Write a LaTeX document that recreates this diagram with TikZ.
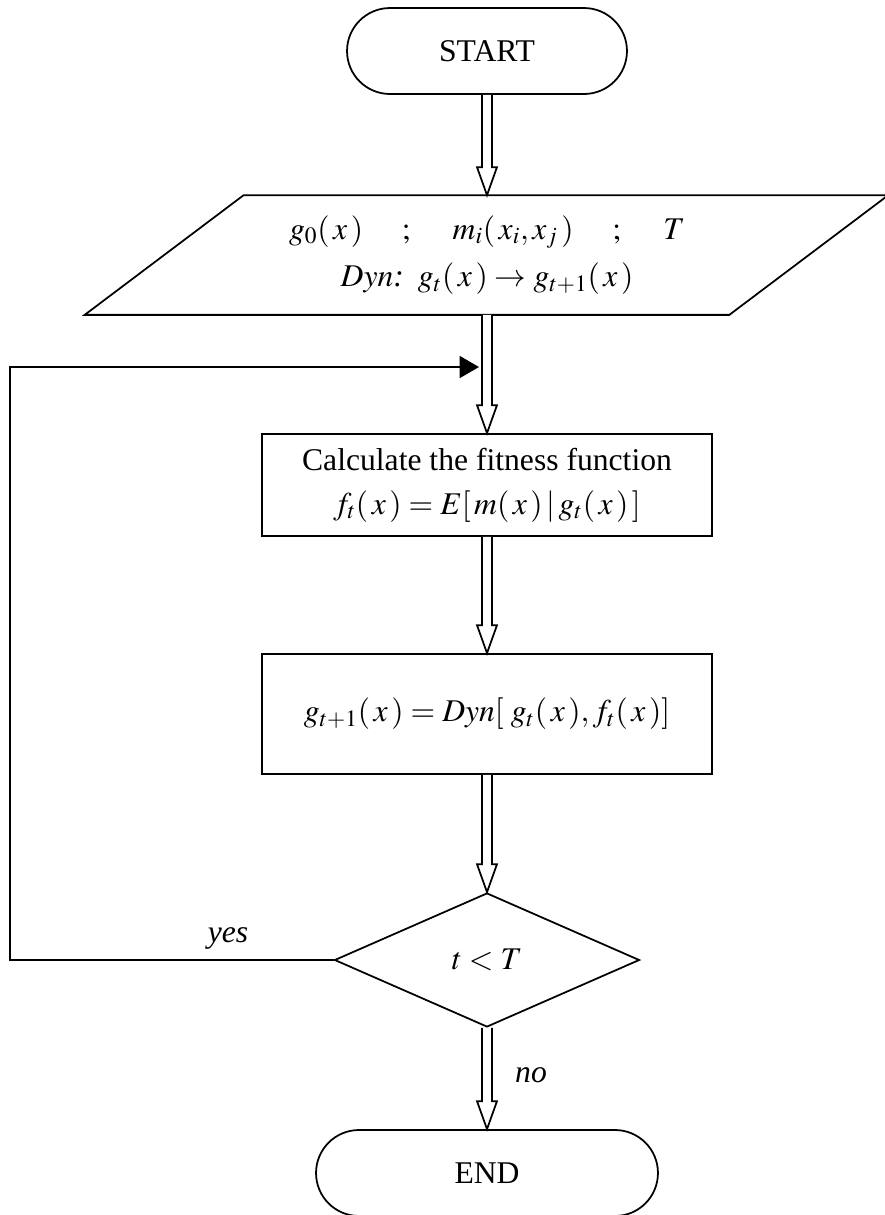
\documentclass[tikz,border=0pt]{standalone}
\usepackage{mathptmx}
\usepackage[no-math]{fontspec}
\setmainfont{Liberation Serif}
\usetikzlibrary{shapes.geometric,shapes.misc,arrows.meta,calc}

% hollow block arrow between two anchors
\newcommand{\fatarrow}[2]{%
  \draw[fill=white, line join=miter]
    ($(#1)+(-5,0)$) -- ($(#2)+(-5,-28)$) -- ($(#2)+(-10,-28)$) -- (#2)
    -- ($(#2)+(10,-28)$) -- ($(#2)+(5,-28)$) -- ($(#1)+(5,0)$);}

\begin{document}
\begin{tikzpicture}[x=0.02cm, y=-0.02cm, line width=1pt,
    every node/.style={font=\fontsize{18}{21}\selectfont},
    term/.style={draw, rounded rectangle, minimum height=1.72cm, inner sep=0pt},
    proc/.style={draw, rectangle, minimum width=9cm, inner sep=0pt, align=center}]
            \useasboundingbox (0,0) rectangle (885,1215);

            %boxes
            \node (S) at (487,51) [term, minimum width=5.6cm] {START};
            \node (IN) at (487,255) [minimum width=12.86cm, minimum height=2.36cm, inner sep=0pt, align=center] {\raisebox{-4pt}{$g_0(\,x\,)\quad\;;\quad\; m_i(\,x_i,x_j\,)\quad\;;\quad\; T$}\\[6pt]\raisebox{-4pt}{$\mathit{Dyn}\textit{:}\;\; g_t(\,x\,)\rightarrow g_{t+1}(\,x\,)$}};
            \draw ($(IN.south west)+(-80,0)$) -- ($(IN.north west)+(79,0)$) -- ($(IN.north east)+(79,0)$) -- ($(IN.south east)+(-80,0)$) -- cycle;
            \node (F) at (487,485) [proc, minimum height=2.04cm] {Calculate the fitness function\\[4pt]$f_t(\,x\,)=E[\,m(\,x\,)\,|\,g_t(\,x\,)\,]$};
            \node (G) at (487,714) [proc, minimum height=2.4cm] {$g_{t+1}(\,x\,)=\mathit{Dyn}[\;g_t(\,x\,),f_t(\,x\,)]$};
            \node (Q) at (487,960) [draw, diamond, minimum width=6.1cm, minimum height=2.68cm, inner sep=0pt] {$t<T$};
            \node (E) at (487,1173) [term, minimum width=6.84cm] {END};

            %labels
            \node (yes) at (228,938) {\textit{yes}};
            \node (no) at (531,1075) {\textit{no}};

            %arrows
            \fatarrow{S.south}{IN.north}
            \fatarrow{IN.south}{F.north}
            \fatarrow{F.south}{G.north}
            \fatarrow{G.south}{Q.north}
            \fatarrow{Q.south}{E.north}

            %loop back
            \coordinate (LT) at (10,367);
            \coordinate (LIN) at (479,367);
            \draw[-{Triangle[length=11pt, width=12.5pt]}] (Q.west) -| (LT) -- (LIN);

    \end{tikzpicture}
\end{document}
